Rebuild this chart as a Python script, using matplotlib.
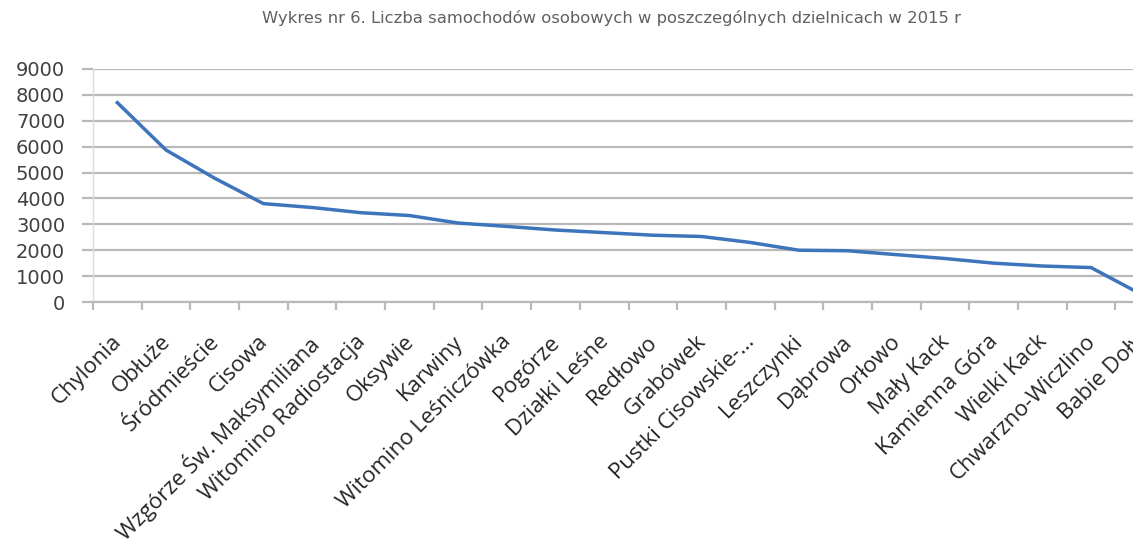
import matplotlib
matplotlib.use("Agg")
import matplotlib.pyplot as plt
from matplotlib.transforms import ScaledTranslation

plt.rcParams['font.family'] = ['Open Sans', 'DejaVu Sans']

title = "Wykres nr 6. Liczba samochodów osobowych w poszczególnych dzielnicach w 2015 r"
districts = ["Chylonia", "Obłuże", "Śródmieście", "Cisowa", "Wzgórze Św. Maksymiliana",
             "Witomino Radiostacja", "Oksywie", "Karwiny", "Witomino Leśniczówka", "Pogórze",
             "Działki Leśne", "Redłowo", "Grabówek", "Pustki Cisowskie-…", "Leszczynki",
             "Dąbrowa", "Orłowo", "Mały Kack", "Kamienna Góra", "Wielki Kack",
             "Chwarzno-Wiczlino", "Babie Doły"]
cars = [7700, 5870, 4780, 3800, 3650, 3450, 3340, 3050, 2920, 2780, 2680, 2580, 2530,
        2300, 2000, 1980, 1830, 1680, 1500, 1390, 1330, 330]
yticks = [0, 1000, 2000, 3000, 4000, 5000, 6000, 7000, 8000, 9000]

W, H = 1133, 542
fig = plt.figure(figsize=(W / 100, H / 100), dpi=100)
left, right = 93 / W, 1164 / W
bottom, top = 1 - 302 / H, 1 - 69 / H
ax = fig.add_axes([left, bottom, right - left, top - bottom])

x = list(range(len(districts)))
ax.plot(x, cars, color='#3d74bb', linewidth=2.5, solid_joinstyle='round', zorder=3)

ax.set_xlim(-0.5, len(districts) - 0.5)
ax.set_ylim(0, 9000)
ax.set_yticks(yticks)
ax.set_yticklabels([str(v) for v in yticks], fontsize=14, color='#404040',
                   family=['DejaVu Sans'])
ax.yaxis.grid(True, color='#b9b9b9', linewidth=1.6)
ax.set_axisbelow(True)

ax.set_xticks(x)
ax.set_xticks([i - 0.5 for i in range(len(districts) + 1)], minor=True)
ax.tick_params(axis='x', which='major', length=0, pad=21)
ax.tick_params(axis='x', which='minor', length=6, color='#b9b9b9', width=1.6)
ax.tick_params(axis='y', length=8, color='#b9b9b9', width=1.6, pad=12)
ax.set_xticklabels(districts, rotation=45, ha='right', va='top', rotation_mode='anchor',
                   fontsize=16, color='#262626')
offset = ScaledTranslation(-6 / 100, 0, fig.dpi_scale_trans)
for lbl in ax.get_xticklabels():
    lbl.set_transform(lbl.get_transform() + offset)

for s in ['top', 'right']:
    ax.spines[s].set_visible(False)
ax.spines['left'].set_color('#dddddd')
ax.spines['left'].set_linewidth(1.0)
ax.spines['bottom'].set_color('#b9b9b9')
ax.spines['bottom'].set_linewidth(1.6)

fig.text(611 / W, 1 - 18 / H, title, ha='center', va='center', fontsize=11.8,
         color='#606060', family=['DejaVu Sans'])

fig.savefig('out.png', dpi=100)
